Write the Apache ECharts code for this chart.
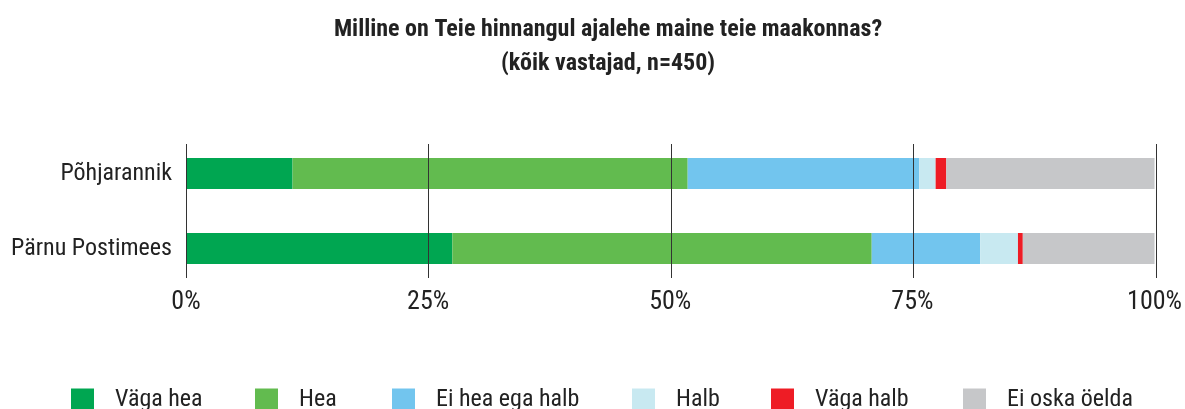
<!DOCTYPE html>
<html>
<head>
<meta charset="utf-8">
<script src="https://cdn.jsdelivr.net/npm/echarts@6/dist/echarts.min.js"></script>
<style>
  html, body { margin: 0; padding: 0; background: #fff; }
  #chart { width: 1185px; height: 409px; }
</style>
</head>
<body>
<div id="chart"></div>
<script>
// andmed (protsendid)
var categories = ['Põhjarannik', 'Pärnu Postimees'];
var seriesNames = ['Väga hea', 'Hea', 'Ei hea ega halb', 'Halb', 'Väga halb', 'Ei oska öelda'];
var vagaHea = [11.0, 27.5];
var hea = [40.8, 43.3];
var eiHeaEgaHalb = [23.9, 11.2];
var halb = [1.7, 3.9];
var vagaHalb = [1.1, 0.5];
var eiOska = [21.5, 13.6];
var tickLabels = ['0%', '25%', '50%', '75%', '100%'];

var colors = ['#00a651', '#62bb4f', '#72c5ee', '#c8e9f1', '#ee1c25', '#c6c7c9'];
var values = [vagaHea, hea, eiHeaEgaHalb, halb, vagaHalb, eiOska];
var legendLeft = [71, 255, 392, 632, 771, 963];
var font = '"Roboto Condensed", "Liberation Sans Narrow", "DejaVu Sans Condensed", Roboto, sans-serif';

var chart = echarts.init(document.getElementById('chart'));

var series = seriesNames.map(function (name, i) {
    return {
        name: name,
        type: 'bar',
        stack: 'kokku',
        barWidth: 31,
        itemStyle: { color: colors[i] },
        data: values[i]
    };
});

var legends = seriesNames.map(function (name, i) {
    return {
        data: [name],
        left: legendLeft[i],
        top: 388,
        padding: 0,
        itemWidth: 23,
        itemHeight: 23,
        icon: 'rect',
        selectedMode: false,
        textStyle: { fontFamily: font, fontSize: 24, color: '#222', padding: [0, 0, 0, 16] }
    };
});

chart.setOption({
    animation: false,
    title: {
        text: 'Milline on Teie hinnangul ajalehe maine teie maakonnas?\n(kõik vastajad, n=450)',
        left: 603,
        textAlign: 'center',
        top: 8,
        textStyle: { fontFamily: font, fontSize: 24, fontWeight: 'bold', color: '#222', lineHeight: 34 }
    },
    legend: legends,
    grid: [
        { left: 186, right: 29, top: 136, height: 150 },
        { left: 186, right: 29, top: 144, height: 134 }
    ],
    xAxis: [{
        type: 'value',
        gridIndex: 0,
        min: 0,
        max: 100,
        interval: 25,
        axisLine: { show: false },
        axisTick: { show: false },
        splitLine: { show: false },
        axisLabel: {
            margin: 3,
            fontFamily: font,
            fontSize: 26,
            color: '#222',
            formatter: function (v) { return tickLabels[Math.round(v / 25)]; }
        }
    }, {
        type: 'value',
        gridIndex: 1,
        min: 0,
        max: 100,
        interval: 25,
        z: 10,
        axisLine: { show: false },
        axisTick: { show: false },
        axisLabel: { show: false },
        splitLine: { show: true, lineStyle: { color: '#333', width: 1 } }
    }],
    yAxis: [{
        type: 'category',
        gridIndex: 0,
        inverse: true,
        data: categories,
        axisLine: { show: false },
        axisTick: { show: false },
        axisLabel: { margin: 14, fontFamily: font, fontSize: 24, color: '#222' }
    }, {
        type: 'category',
        gridIndex: 1,
        data: categories,
        show: false
    }],
    series: series
});
</script>
</body>
</html>
